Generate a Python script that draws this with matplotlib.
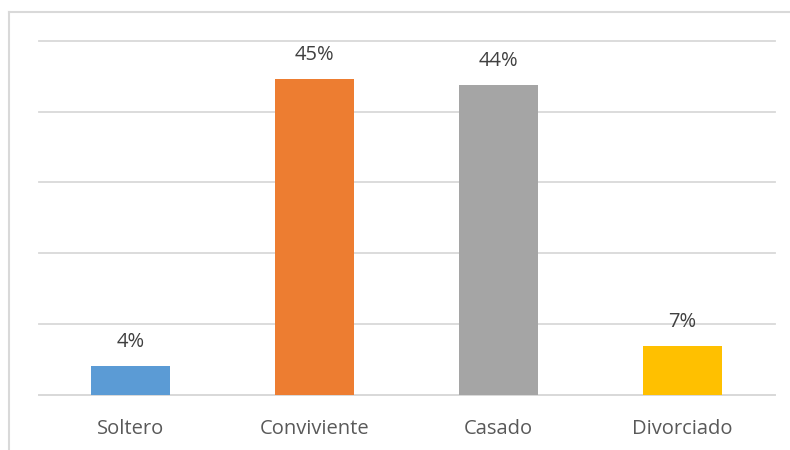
import matplotlib
matplotlib.use("Agg")
import matplotlib.pyplot as plt
from matplotlib.lines import Line2D

categories = ["Soltero", "Conviviente", "Casado", "Divorciado"]
values = [4.1, 44.6, 43.7, 6.9]
labels = ["4%", "45%", "44%", "7%"]
colors = ["#5B9BD5", "#ED7D31", "#A5A5A5", "#FFC000"]

W, H = 790, 450
fig = plt.figure(figsize=(W / 100, H / 100), dpi=100)
plt.rcParams['font.family'] = ['Open Sans', 'DejaVu Sans']

# chart-area border (only left and top visible)
bx, by = 8.5 / W, 1 - 11.5 / H
fig.add_artist(Line2D([bx, bx], [0, by], transform=fig.transFigure,
                      color="#d9d9d9", linewidth=1.5))
fig.add_artist(Line2D([bx, 1], [by, by], transform=fig.transFigure,
                      color="#d9d9d9", linewidth=1.5))

ax = fig.add_axes([38.5 / W, 55 / H, 736 / W, (395 - 40.7) / H])
x = range(len(categories))
ax.bar(x, values, width=0.43, color=colors, zorder=3)
ax.set_xlim(-0.5, len(categories) - 0.5)
ax.set_ylim(0, 50)
ax.set_yticks([0, 10, 20, 30, 40, 50])
ax.yaxis.grid(True, color="#d9d9d9", linewidth=1.3, zorder=0)
for gl in ax.get_ygridlines():
    gl.set_clip_on(False)
ax.tick_params(axis='y', left=False, labelleft=False)
ax.tick_params(axis='x', bottom=False, labelsize=14.5, colors="#595959", pad=14)
ax.set_xticks(list(x))
ax.set_xticklabels(categories)
for s in ["top", "right", "left"]:
    ax.spines[s].set_visible(False)
ax.spines["bottom"].set_color("#d9d9d9")
ax.spines["bottom"].set_linewidth(1.3)

for i, (v, lab) in enumerate(zip(values, labels)):
    ax.annotate(lab, (i, v), xytext=(0, 17.5), textcoords="offset points",
                ha="center", va="center", fontsize=14.5, color="#404040")

fig.savefig("out.png", dpi=100)
